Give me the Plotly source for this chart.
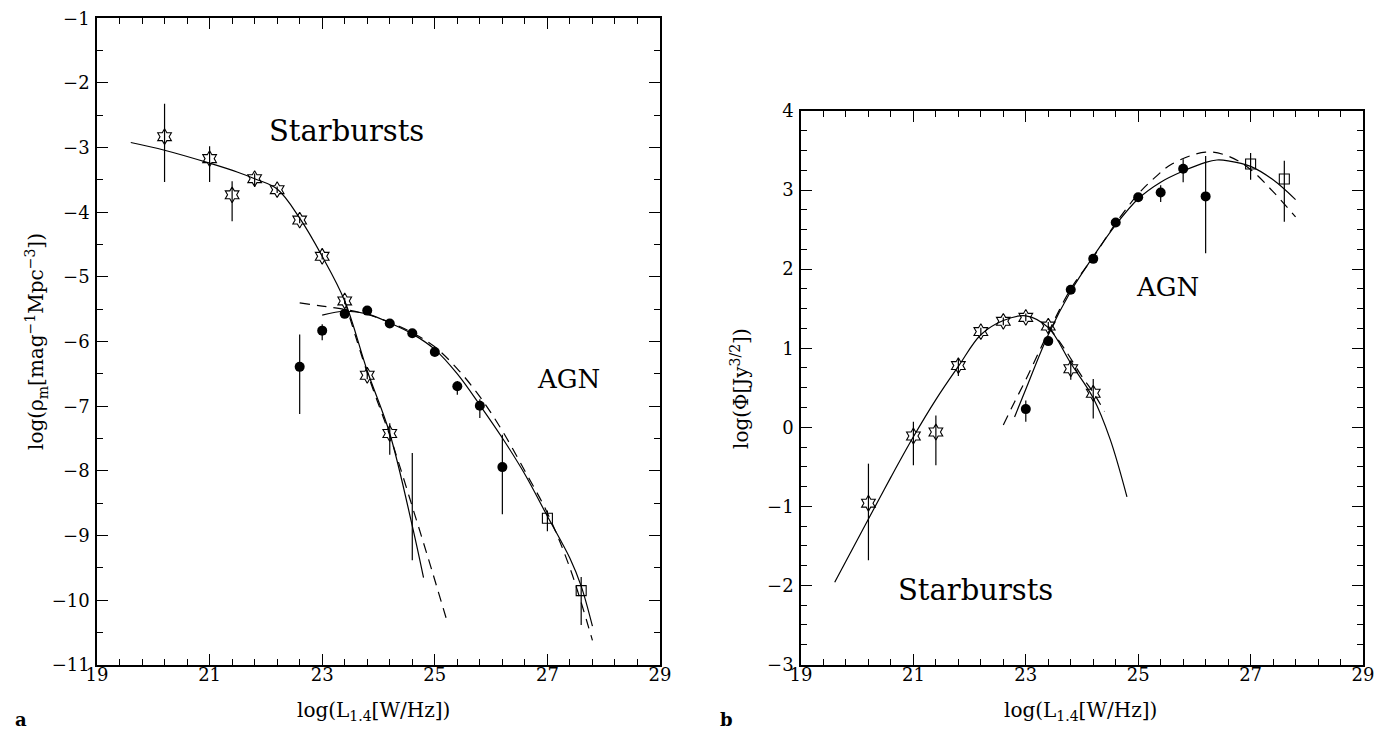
import plotly.graph_objects as go

# ---------------- Panel a : log(rho_m) ----------------
a_sb_x = [20.2, 21.0, 21.4, 21.8, 22.2, 22.6, 23.0, 23.4, 23.8, 24.2]
a_sb_y = [-2.83, -3.17, -3.73, -3.48, -3.65, -4.12, -4.68, -5.37, -6.52, -7.42]
a_sb_up = [0.51, 0.19, 0.21, 0.08, 0.05, 0.05, 0.05, 0.05, 0.06, 0.16]
a_sb_dn = [0.70, 0.36, 0.41, 0.13, 0.05, 0.05, 0.05, 0.05, 0.06, 0.33]

a_bar_x = [24.6]
a_bar_y = [-8.55]
a_bar_err = [0.83]

a_agn_x = [22.6, 23.0, 23.4, 23.8, 24.2, 24.6, 25.0, 25.4, 25.8, 26.2]
a_agn_y = [-6.39, -5.83, -5.57, -5.52, -5.72, -5.87, -6.16, -6.69, -6.99, -7.94]
a_agn_up = [0.50, 0.10, 0.03, 0.03, 0.03, 0.03, 0.03, 0.08, 0.10, 0.50]
a_agn_dn = [0.73, 0.15, 0.03, 0.03, 0.03, 0.03, 0.03, 0.13, 0.19, 0.73]

a_sq_x = [27.0, 27.6]
a_sq_y = [-8.73, -9.85]
a_sq_up = [0.12, 0.21]
a_sq_dn = [0.20, 0.53]

a_sbfit_x = [19.6, 20.2, 21.0, 21.5, 21.8, 22.2, 22.6, 23.0, 23.4, 23.8, 24.2, 24.6, 24.8]
a_sbfit_y = [-2.92, -3.04, -3.24, -3.38, -3.48, -3.64, -4.09, -4.68, -5.37, -6.45, -7.42, -8.85, -9.65]
a_sbdash_x = [23.4, 23.8, 24.2, 24.35, 24.6, 24.88, 25.2]
a_sbdash_y = [-5.37, -6.48, -7.45, -7.85, -8.55, -9.34, -10.27]

a_agnfit_x = [23.0, 23.4, 23.8, 24.2, 24.6, 25.0, 25.4, 25.8, 26.2, 26.6, 27.0, 27.4, 27.6, 27.8]
a_agnfit_y = [-5.59, -5.53, -5.57, -5.71, -5.88, -6.12, -6.50, -6.98, -7.49, -8.05, -8.70, -9.35, -9.78, -10.40]
a_agndash_x = [22.6, 23.0, 23.4, 23.8, 24.2, 24.6, 25.0, 25.4, 25.8, 26.2, 26.6, 27.0, 27.4, 27.8]
a_agndash_y = [-5.40, -5.45, -5.50, -5.58, -5.70, -5.86, -6.08, -6.42, -6.85, -7.38, -8.00, -8.65, -9.50, -10.62]

# ---------------- Panel b : log(Phi) ----------------
b_sb_x = [20.2, 21.0, 21.4, 21.8, 22.2, 22.6, 23.0, 23.4, 23.8, 24.2]
b_sb_y = [-0.96, -0.11, -0.06, 0.78, 1.21, 1.34, 1.39, 1.28, 0.74, 0.43]
b_sb_up = [0.50, 0.18, 0.21, 0.09, 0.05, 0.05, 0.05, 0.05, 0.10, 0.18]
b_sb_dn = [0.72, 0.37, 0.42, 0.13, 0.05, 0.05, 0.05, 0.05, 0.14, 0.32]

b_agn_x = [23.0, 23.4, 23.8, 24.2, 24.6, 25.0, 25.4, 25.8, 26.2]
b_agn_y = [0.23, 1.09, 1.74, 2.13, 2.59, 2.91, 2.97, 3.27, 2.92]
b_agn_up = [0.11, 0.04, 0.04, 0.04, 0.04, 0.04, 0.09, 0.12, 0.51]
b_agn_dn = [0.16, 0.04, 0.04, 0.04, 0.04, 0.04, 0.12, 0.17, 0.72]

b_sq_x = [27.0, 27.6]
b_sq_y = [3.33, 3.14]
b_sq_up = [0.14, 0.23]
b_sq_dn = [0.20, 0.54]

b_sbfit_x = [19.6, 20.2, 20.6, 21.0, 21.4, 21.8, 22.2, 22.6, 23.0, 23.4, 23.8, 24.2, 24.5, 24.8]
b_sbfit_y = [-1.96, -1.16, -0.63, -0.12, 0.35, 0.77, 1.17, 1.35, 1.41, 1.26, 0.81, 0.37, -0.15, -0.88]
b_sbdash_x = [23.4, 23.7, 24.0, 24.2, 24.4]
b_sbdash_y = [1.28, 0.98, 0.64, 0.44, 0.20]

b_agnfit_x = [22.8, 23.0, 23.4, 23.8, 24.2, 24.6, 25.0, 25.4, 25.8, 26.2, 26.4, 26.6, 27.0, 27.4, 27.8]
b_agnfit_y = [0.13, 0.48, 1.17, 1.72, 2.16, 2.56, 2.89, 3.10, 3.24, 3.35, 3.38, 3.37, 3.30, 3.13, 2.88]
b_agndash_x = [22.6, 22.8, 23.0, 23.4, 23.8, 24.2, 24.6, 25.0, 25.3, 25.6, 26.2, 26.6, 27.0, 27.4, 27.8]
b_agndash_y = [0.03, 0.32, 0.60, 1.20, 1.75, 2.15, 2.58, 2.95, 3.16, 3.33, 3.48, 3.43, 3.26, 2.98, 2.66]

FONT = "DejaVu Serif, Liberation Serif, serif"
BLACK = "black"

fig = go.Figure()


def err(up, dn):
    return dict(type="data", symmetric=False, array=up, arrayminus=dn,
                color=BLACK, thickness=1.2, width=0)


def add_panel(xa, ya, sb, agn, sq, sbfit, sbdash, agnfit, agndash):
    for (xs, ys), dash in [(sbfit, "solid"), (sbdash, "10px,7px"),
                           (agnfit, "solid"), (agndash, "10px,7px")]:
        fig.add_trace(go.Scatter(x=xs, y=ys, mode="lines", line_shape="spline",
                                 line=dict(color=BLACK, width=1.2, dash=dash),
                                 xaxis=xa, yaxis=ya, showlegend=False, hoverinfo="skip"))
    x, y, up, dn = sb
    fig.add_trace(go.Scatter(x=x, y=y, mode="markers", error_y=err(up, dn),
                             marker=dict(symbol="hexagram-open", size=12, color=BLACK,
                                         line=dict(color=BLACK, width=1.1)),
                             xaxis=xa, yaxis=ya, showlegend=False))
    x, y, up, dn = agn
    fig.add_trace(go.Scatter(x=x, y=y, mode="markers", error_y=err(up, dn),
                             marker=dict(symbol="circle", size=10, color=BLACK),
                             xaxis=xa, yaxis=ya, showlegend=False))
    x, y, up, dn = sq
    fig.add_trace(go.Scatter(x=x, y=y, mode="markers", error_y=err(up, dn),
                             marker=dict(symbol="square-open", size=10, color=BLACK,
                                         line=dict(color=BLACK, width=1.1)),
                             xaxis=xa, yaxis=ya, showlegend=False))


add_panel("x", "y",
          (a_sb_x, a_sb_y, a_sb_up, a_sb_dn),
          (a_agn_x, a_agn_y, a_agn_up, a_agn_dn),
          (a_sq_x, a_sq_y, a_sq_up, a_sq_dn),
          (a_sbfit_x, a_sbfit_y), (a_sbdash_x, a_sbdash_y),
          (a_agnfit_x, a_agnfit_y), (a_agndash_x, a_agndash_y))
fig.add_trace(go.Scatter(x=a_bar_x, y=a_bar_y, mode="markers",
                         error_y=err(a_bar_err, a_bar_err),
                         marker=dict(size=1, color="rgba(0,0,0,0)"),
                         xaxis="x", yaxis="y", showlegend=False))

add_panel("x2", "y2",
          (b_sb_x, b_sb_y, b_sb_up, b_sb_dn),
          (b_agn_x, b_agn_y, b_agn_up, b_agn_dn),
          (b_sq_x, b_sq_y, b_sq_up, b_sq_dn),
          (b_sbfit_x, b_sbfit_y), (b_sbdash_x, b_sbdash_y),
          (b_agnfit_x, b_agnfit_y), (b_agndash_x, b_agndash_y))

W, H = 1384, 730


def axis(rng, tick0, dtick, mdtick, domain, anchor, standoff):
    return dict(range=rng, domain=domain, anchor=anchor,
                tickmode="linear", tick0=tick0, dtick=dtick,
                ticks="inside", ticklen=11, tickwidth=1, tickcolor=BLACK,
                showline=True, linecolor=BLACK, linewidth=1.5, mirror="allticks",
                showgrid=False, zeroline=False, automargin=False,
                ticklabelstandoff=standoff, ticklabeloverflow="allow",
                minor=dict(tick0=tick0, dtick=mdtick, ticks="inside", ticklen=6,
                           tickwidth=1, tickcolor=BLACK, showgrid=False),
                tickfont=dict(family=FONT, size=18, color=BLACK))


fig.update_layout(
    width=W, height=H,
    margin=dict(l=0, r=0, t=0, b=0),
    paper_bgcolor="white", plot_bgcolor="white",
    font=dict(family=FONT, color=BLACK),
    xaxis=axis([19, 29], 19, 2, 0.4, [89 / W, 652 / W], "y", -7),
    yaxis=axis([-11, -1], -11, 1, 0.5, [1 - 657 / H, 1 - 10.3 / H], "x", 2),
    xaxis2=axis([19, 29], 19, 2, 0.4, [793 / W, 1355 / W], "y2", -7),
    yaxis2=axis([-3, 4], -3, 1, 0.25, [1 - 656.5 / H, 1 - 103 / H], "x2", 2),
)

ann = [
    dict(text="Starbursts", x=23.44, y=-2.74, xref="x", yref="y", size=29),
    dict(text="AGN", x=27.37, y=-6.57, xref="x", yref="y", size=26),
    dict(text="AGN", x=25.53, y=1.77, xref="x2", yref="y2", size=26),
    dict(text="Starbursts", x=22.1, y=-2.06, xref="x2", yref="y2", size=29),
]
for a in ann:
    fig.add_annotation(text=a["text"], x=a["x"], y=a["y"], xref=a["xref"], yref=a["yref"],
                       showarrow=False, font=dict(family=FONT, size=a["size"], color=BLACK))

titles = [
    dict(text="log(L<sub>1.4</sub>[W/Hz])", x=365 / W, y=1 - 703 / H, angle=0),
    dict(text="log(L<sub>1.4</sub>[W/Hz])", x=1072 / W, y=1 - 703 / H, angle=0),
    dict(text="log(ρ<sub>m</sub>[mag<sup>−1</sup>Mpc<sup>−3</sup>])", x=28 / W, y=1 - 334 / H, angle=-90),
    dict(text="log(Φ[Jy<sup>3/2</sup>])", x=732 / W, y=1 - 381 / H, angle=-90),
]
for t in titles:
    fig.add_annotation(text=t["text"], x=t["x"], y=t["y"], xref="paper", yref="paper",
                       xanchor="center", yanchor="middle", textangle=t["angle"],
                       showarrow=False, font=dict(family=FONT, size=20, color=BLACK))

for lab, xp in [("a", 13), ("b", 718)]:
    fig.add_annotation(text="<b>%s</b>" % lab, x=xp / W, y=1 - 711 / H, xref="paper", yref="paper",
                       xanchor="center", yanchor="middle", showarrow=False,
                       font=dict(family=FONT, size=18, color=BLACK))

fig.write_html("out.html")
